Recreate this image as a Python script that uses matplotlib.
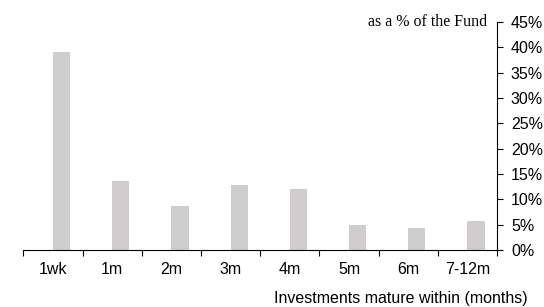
import matplotlib.pyplot as plt
import numpy as np

plt.rcParams['font.family'] = 'Liberation Sans'

categories = ['1wk', '1m', '2m', '3m', '4m', '5m', '6m', '7-12m']
values = [39.1, 13.6, 8.7, 12.8, 12.1, 4.9, 4.3, 5.8]
yticks = [0, 5, 10, 15, 20, 25, 30, 35, 40, 45]

fig = plt.figure(figsize=(5.44, 3.07), dpi=100)
ax = fig.add_axes([0.0429, 0.1857, 0.8707, 0.7426])

x = np.arange(len(categories))
ax.bar(x, values, width=0.29, align='edge', color='#cfcdce')

ax.set_xlim(-0.5, len(categories) - 0.5)
ax.set_ylim(0, 45)

ax.set_xticks(x)
ax.set_xticklabels(categories, fontsize=11.5)
ax.set_xticks(np.arange(-0.5, len(categories)), minor=True)
ax.tick_params(axis='x', which='major', length=0, pad=9)
ax.tick_params(axis='x', which='minor', length=4, direction='out', width=0.8)

ax.yaxis.tick_right()
ax.set_yticks(yticks)
ax.set_yticklabels([f'{v}%' for v in yticks], fontsize=11.5)
ax.tick_params(axis='y', length=4, width=0.8, pad=6)

for s in ['top', 'left']:
    ax.spines[s].set_visible(False)
ax.spines['right'].set_linewidth(0.8)
ax.spines['bottom'].set_linewidth(0.8)

fig.text(487 / 544, 1 - 22 / 307, 'as a % of the Fund', family='Liberation Serif',
         fontsize=11.5, ha='right', va='center')
fig.text(528 / 544, 1 - 299 / 307, 'Investments mature within (months)',
         fontsize=11.5, ha='right', va='center')

fig.savefig('out.png', dpi=100)
